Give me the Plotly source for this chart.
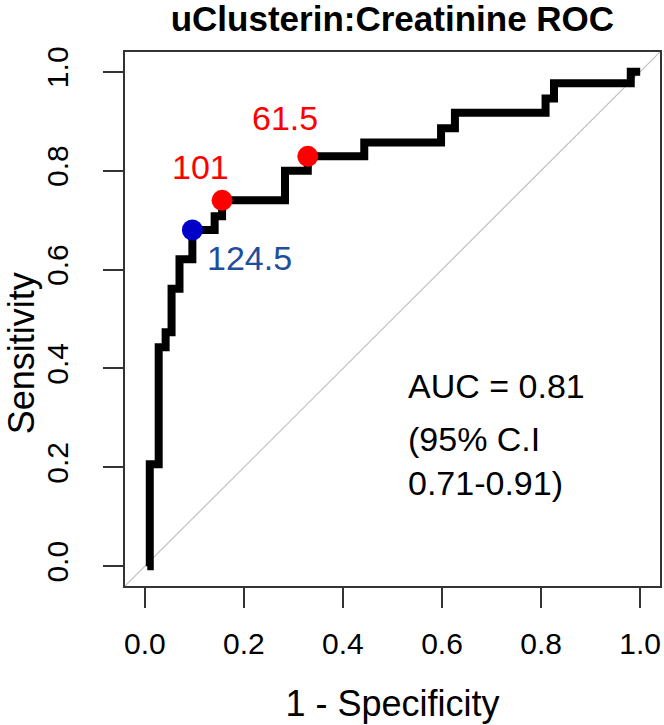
import plotly.graph_objects as go

# ROC staircase corners (1 - specificity, sensitivity)
fpr = [0.005, 0.010, 0.028, 0.042, 0.054, 0.070, 0.096, 0.141, 0.156,
       0.283, 0.329, 0.443, 0.598, 0.626, 0.809, 0.826, 0.981, 1.000]
sens = [0.000, 0.206, 0.443, 0.473, 0.561, 0.621, 0.680, 0.708, 0.740,
        0.800, 0.829, 0.857, 0.886, 0.917, 0.946, 0.977, 1.000, 1.000]

# chance line
diag = [-0.04, 1.04]

# cut-off points
cut_labels = ["124.5", "101", "61.5"]
cut_fpr = [0.096, 0.156, 0.329]
cut_sens = [0.680, 0.740, 0.829]

ticks = [0.0, 0.2, 0.4, 0.6, 0.8, 1.0]
tick_text = ["0.0", "0.2", "0.4", "0.6", "0.8", "1.0"]

auc_line = "AUC = 0.81"
ci_lines = "(95% C.I<br>0.71-0.91)"

FONT = "Liberation Sans, Arial, sans-serif"
RED = "#ff0000"
BLUE = "#0000c8"
BLUE_TXT = "#1f4e9c"

fig = go.Figure()

fig.add_trace(go.Scatter(x=diag, y=diag, mode="lines",
                         line=dict(color="#c0c0c0", width=1.2),
                         hoverinfo="skip", showlegend=False))

fig.add_trace(go.Scatter(x=fpr, y=sens, mode="lines", line_shape="hv",
                         line=dict(color="black", width=8),
                         showlegend=False))

pt_colors = [BLUE, RED, RED]
fig.add_trace(go.Scatter(x=cut_fpr, y=cut_sens, mode="markers",
                         marker=dict(color=pt_colors, size=21, line_width=0),
                         showlegend=False))

# label offsets in pixels (x, y) and colours, one per cut-off
offsets = [(57, -28), (-22, 33), (-23, 38)]
txt_colors = [BLUE_TXT, RED, RED]
for lab, x, y, (dx, dy), c in zip(cut_labels, cut_fpr, cut_sens, offsets, txt_colors):
    fig.add_annotation(x=x, y=y, text=lab, showarrow=False, xshift=dx, yshift=dy,
                       xanchor="center", yanchor="middle",
                       font=dict(family=FONT, size=34, color=c))

fig.add_annotation(x=0.528, y=0.364, text=auc_line, showarrow=False,
                   xanchor="left", yanchor="middle", align="left",
                   font=dict(family=FONT, size=34, color="black"))
fig.add_annotation(x=0.528, y=0.213, text=ci_lines, showarrow=False,
                   xanchor="left", yanchor="middle", align="left",
                   font=dict(family=FONT, size=34, color="black"))

# y axis title, set a little below the middle as in the original
fig.add_annotation(xref="paper", yref="y", x=-0.193, y=0.43, text="Sensitivity",
                   textangle=-90, showarrow=False, xanchor="center", yanchor="middle",
                   font=dict(family=FONT, size=36, color="black"))

axis_common = dict(
    range=[-0.04, 1.04], tickvals=ticks, ticktext=tick_text,
    ticks="outside", ticklen=20, tickwidth=1.5, tickcolor="#333333",
    showline=True, linecolor="#333333", linewidth=1.5, mirror=True,
    showgrid=False, zeroline=False, automargin=False,
    tickfont=dict(family=FONT, size=30, color="black"),
)

fig.update_xaxes(**axis_common, ticklabelstandoff=10,
                 title=dict(text="1 - Specificity", standoff=32,
                            font=dict(family=FONT, size=36, color="black")))
fig.update_yaxes(**axis_common, tickangle=-90, ticklabelstandoff=23)

fig.update_layout(
    width=664, height=725,
    margin=dict(l=125, r=4, t=52, b=139),
    paper_bgcolor="white", plot_bgcolor="white",
    title=dict(text="uClusterin:Creatinine ROC", x=0.591, xanchor="center",
               yref="container", y=0.974, yanchor="middle",
               font=dict(family=FONT, size=35, color="black", weight="bold")),
)

# drop the default page margin so the figure sits at the window corner
fig.write_html("out.html", config={"displayModeBar": False},
               post_script="document.body.style.margin='0';"
                           "document.body.style.overflow='hidden';")
